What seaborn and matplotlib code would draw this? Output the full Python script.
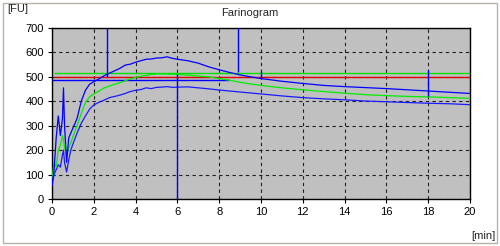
import matplotlib
matplotlib.use("Agg")
import matplotlib.pyplot as plt
import seaborn as sns
import pandas as pd
from matplotlib.patches import Rectangle

minutes = [0, 0.1, 0.2, 0.3, 0.4, 0.5, 0.55, 0.6, 0.7, 0.8, 0.9, 1.0,
           1.2, 1.4, 1.6, 1.8, 2.0, 2.25, 2.5, 2.75, 3.0, 3.25, 3.5, 3.75, 4.0,
           4.25, 4.5, 4.75, 5.0, 5.25, 5.5, 5.75, 6.0, 6.5, 7.0, 7.5, 8.0, 8.5,
           9.0, 9.5, 10, 11, 12, 13, 14, 15, 16, 17, 18, 19, 20]
upper = [60, 120, 250, 340, 260, 330, 455, 300, 150, 250, 270, 290,
         330, 400, 445, 470, 480, 492, 505, 515, 525, 535, 548, 552, 560,
         566, 572, 573, 577, 578, 582, 576, 572, 566, 556, 541, 529, 518,
         508, 500, 493, 482, 473, 465, 460, 456, 452, 447, 442, 437, 432]
middle = [80, 150, 130, 200, 220, 260, 240, 210, 180, 210, 230, 255,
          300, 350, 395, 418, 430, 442, 455, 462, 470, 476, 484, 492, 498,
          502, 506, 510, 512, 512, 512, 511, 510, 507, 503, 500, 493, 486,
          478, 471, 465, 455, 447, 440, 433, 427, 423, 420, 418, 415, 412]
lower = [55, 100, 120, 140, 130, 180, 200, 150, 110, 160, 200, 225,
         270, 310, 340, 368, 385, 396, 405, 415, 420, 425, 432, 440, 445,
         448, 455, 452, 457, 458, 460, 457, 458, 459, 455, 451, 446, 442,
         438, 434, 430, 422, 415, 410, 406, 401, 398, 395, 392, 390, 386]

# horizontal reference levels: (value, start, end)
h_values = [515, 498, 487]
h_starts = [0.1, 0.1, 0.0]
h_ends = [20, 20, 8.45]
h_colors = ["#00e000", "#e00000", "#0000ff"]

# vertical markers
v_pos = [2.65, 6.0, 8.9, 10.0, 18.0]
v_bottom = [500, 0, 520, 490, 420]
v_top = [700, 512, 700, 524, 528]

x_ticks = [0, 2, 4, 6, 8, 10, 12, 14, 16, 18, 20]
y_ticks = [0, 100, 200, 300, 400, 500, 600, 700]

sns.set_style("white")
plt.rcParams["font.family"] = ["Liberation Sans", "DejaVu Sans"]

fig = plt.figure(figsize=(5.0, 2.46), dpi=100)
fig.patches.append(Rectangle((0.006, 0.012), 0.988, 0.976, transform=fig.transFigure,
                             fill=False, edgecolor="#b8b4ac", linewidth=1.0))
ax = fig.add_axes([52 / 500, 1 - 199 / 246, 418 / 500, 171 / 246])
ax.set_facecolor("#c0c0c0")

df = pd.DataFrame({"t": minutes, "upper": upper, "middle": middle, "lower": lower})

for h, s, e, c in zip(h_values, h_starts, h_ends, h_colors):
    ax.hlines(h, s, e, color=c, linewidth=1.0, zorder=3)

sns.lineplot(data=df, x="t", y="lower", color="#1a1aff", linewidth=0.9, ax=ax, zorder=4)
sns.lineplot(data=df, x="t", y="middle", color="#00ee00", linewidth=0.9, ax=ax, zorder=4)
sns.lineplot(data=df, x="t", y="upper", color="#0000ff", linewidth=0.9, ax=ax, zorder=5)

ax.vlines(v_pos, v_bottom, v_top, color="#0000ff", linewidth=1.0, zorder=5)

ax.set_xlim(0, 20)
ax.set_ylim(0, 700)
ax.set_xticks(x_ticks)
ax.set_yticks(y_ticks)
ax.set_xticklabels([str(v) for v in x_ticks])
ax.set_yticklabels([str(v) for v in y_ticks])
ax.grid(True, color="#202020", linestyle=(0, (3, 3)), linewidth=0.8, zorder=1)
ax.set_axisbelow(True)
ax.tick_params(axis="both", direction="out", length=3, width=0.8, labelsize=8,
               colors="black", pad=3, bottom=True, left=True)
for sp in ax.spines.values():
    sp.set_color("black")
    sp.set_linewidth(1.0)
ax.set_xlabel("")
ax.set_ylabel("")

fig.text(250 / 500, 1 - 13 / 246, "Farinogram", ha="center", va="center", fontsize=8)
fig.text(7 / 500, 1 - 9 / 246, "[FU]", ha="left", va="center", fontsize=8)
fig.text(495 / 500, 1 - 236 / 246, "[min]", ha="right", va="center", fontsize=8)

fig.savefig("out.png", dpi=100)
